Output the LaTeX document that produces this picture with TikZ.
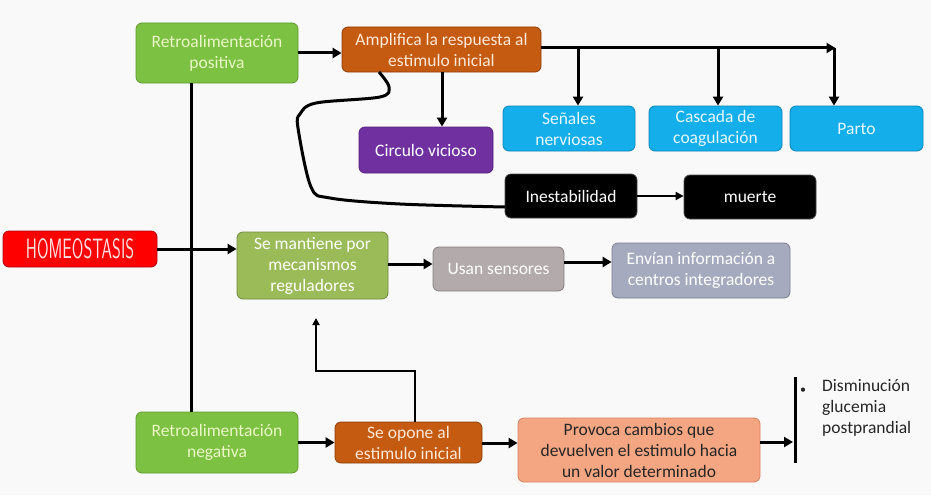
\documentclass[tikz,border=0pt]{standalone}
\usepackage{fontspec}
\setmainfont{Carlito}
\usetikzlibrary{arrows.meta,calc}
\definecolor{bg}{HTML}{F9F9F9}
\definecolor{gA}{HTML}{7DC142}
\definecolor{gAd}{HTML}{5E9A2E}
\definecolor{gAt}{HTML}{EAF6C6}
\definecolor{oA}{HTML}{C55A11}
\definecolor{oAd}{HTML}{8E3E0A}
\definecolor{oAt}{HTML}{FCE8D6}
\definecolor{pA}{HTML}{7030A0}
\definecolor{pAd}{HTML}{55207E}
\definecolor{bA}{HTML}{14AEEA}
\definecolor{bAd}{HTML}{0E86B8}
\definecolor{bAt}{HTML}{E6F6FF}
\definecolor{rA}{HTML}{FF0000}
\definecolor{rAd}{HTML}{B00000}
\definecolor{rAt}{HTML}{FFE0E0}
\definecolor{gB}{HTML}{9BBB59}
\definecolor{gBd}{HTML}{71893F}
\definecolor{grA}{HTML}{B3ABAB}
\definecolor{grAd}{HTML}{857E7E}
\definecolor{gbA}{HTML}{A6AABE}
\definecolor{gbAd}{HTML}{7A7E92}
\definecolor{sA}{HTML}{F4A582}
\definecolor{sAd}{HTML}{D9825E}
\tikzset{
  box/.style={rounded corners=6pt, line width=0.8pt, align=center, inner sep=2pt,
    font=\fontsize{17.5}{21}\selectfont},
  arr/.style={line width=3pt, -{Triangle[length=9pt,width=10pt]}},
  thinarr/.style={line width=2pt, -{Triangle[length=8pt,width=8pt]}},
  plain/.style={line width=3pt},
}
\begin{document}
\begin{tikzpicture}[x=1pt,y=-1pt]
\useasboundingbox[fill=bg] (0,0) rectangle (931,495);
% nodes
\node[box, fill=gA, draw=gAd, text=gAt, minimum width=162pt, minimum height=60pt] (rp) at (217,53) {Retroalimentación\\positiva};
\node[box, fill=oA, draw=oAd, text=oAt, minimum width=199pt, minimum height=45pt] (amp) at (441.5,49.5) {Amplifica la respuesta al\\estimulo inicial};
\node[box, fill=pA, draw=pAd, text=white, minimum width=134pt, minimum height=46pt] (cv) at (426,150) {Circulo vicioso};
\node[box, fill=bA, draw=bAd, text=bAt, minimum width=132pt, minimum height=45pt] (sn) at (569,128.5) {Señales\\nerviosas};
\node[box, fill=bA, draw=bAd, text=bAt, minimum width=133pt, minimum height=45pt] (cc) at (715.5,128.5) {Cascada de\\coagulación};
\node[box, fill=bA, draw=bAd, text=bAt, minimum width=133pt, minimum height=45pt] (pa) at (856.5,128.5) {Parto};
\node[box, fill=black, draw=black!70, text=white, minimum width=132pt, minimum height=44pt] (in) at (571,196) {Inestabilidad};
\node[box, fill=black, draw=black!70, text=white, minimum width=132pt, minimum height=44pt] (mu) at (750,197) {muerte};
\node[box, fill=rA, draw=rAd, text=rAt, minimum width=154pt, minimum height=36pt, inner sep=0pt] (ho) at (80,249) {\scalebox{0.6}[1]{\fontsize{28}{28}\sffamily HOMEOSTASIS}};
\node[box, fill=gB, draw=gBd, text=white, minimum width=151pt, minimum height=67pt] (sm) at (312.5,265.5) {Se mantiene por\\mecanismos\\reguladores};
\node[box, fill=grA, draw=grAd, text=white, minimum width=131pt, minimum height=44pt] (us) at (498.5,269) {Usan sensores};
\node[box, fill=gbA, draw=gbAd, text=white, minimum width=178pt, minimum height=55pt] (en) at (701,270.5) {Envían información a\\centros integradores};
\node[box, fill=gA, draw=gAd, text=gAt, minimum width=162pt, minimum height=61pt] (rn) at (217,442.5) {Retroalimentación\\negativa};
\node[box, fill=oA, draw=oAd, text=oAt, minimum width=147pt, minimum height=41pt] (so) at (408.5,442.5) {Se opone al\\estimulo inicial};
\node[box, fill=sA, draw=sAd, text=black!85, minimum width=242pt, minimum height=64pt] (pc) at (639,450) {Provoca cambios que\\devuelven el estimulo hacia\\un valor determinado};
\node[anchor=north west, align=left, inner sep=0pt, text=black!85, font=\fontsize{17.5}{21}\selectfont] (gl) at (822,379) {Disminución\\glucemia\\postprandial};
\node[inner sep=0pt, text=black!85, font=\fontsize{12}{12}\selectfont] (bu) at (803,391) {•};
% coordinates
\coordinate (bt) at (795,377);
\coordinate (bb) at (795,463);
\coordinate (c1) at (834,48);
\coordinate (r1) at (415,371);
\coordinate (r2) at (316,371);
\coordinate (r3) at (316,318);
\coordinate (cs) at (379,72);
\coordinate (ce) at (505,207);
% connectors
\draw[plain] ([xshift=-26pt]rp.south) -- ([xshift=-26pt]rn.north);
\draw[arr] (rp.east |- 0,53) -- (amp.west |- 0,53);
\draw[arr] (ho.east) -- (ho.east -| sm.west);
\draw[arr] ([yshift=1.5pt]sm.east) -- ([yshift=1.5pt]sm.east -| us.west);
\draw[arr] ([yshift=7pt]us.east) -- ([yshift=7pt]us.east -| en.west);
\draw[arr] (amp.east |- c1) -- ([xshift=1.5pt]c1);
\draw[arr] (c1) -- (c1 |- pa.north);
\draw[arr] (sn.north -| 578,0) ++(0,-58) -- (sn.north -| 578,0);
\draw[arr] (cc.north -| 718,0) ++(0,-58) -- (cc.north -| 718,0);
\draw[arr] (amp.south -| 442,0) -- (cv.north -| 442,0);
\draw[line width=3pt] plot[smooth, tension=0.55] coordinates {(cs) (389,87) (380,97) (316,103) (300,114) (298,128) (311,187) (330,198) (400,204) (ce)};
\draw[thinarr] (in.east) -- (in.east -| mu.west);
\draw[arr] (rn.east) -- (rn.east -| so.west);
\draw[arr] ([yshift=-0.5pt]so.east) -- ([yshift=-0.5pt]so.east -| pc.west);
\draw[arr] ([yshift=8pt]pc.east) -- ([yshift=8pt,xshift=-2pt]pc.east -| bt);
\draw[line width=3pt] (bt) -- (bb);
\draw[line width=2pt, -{Triangle[length=7pt,width=7pt]}] (so.north -| r1) -- (r1) -- (r2) -- (r3);
\end{tikzpicture}
\end{document}
